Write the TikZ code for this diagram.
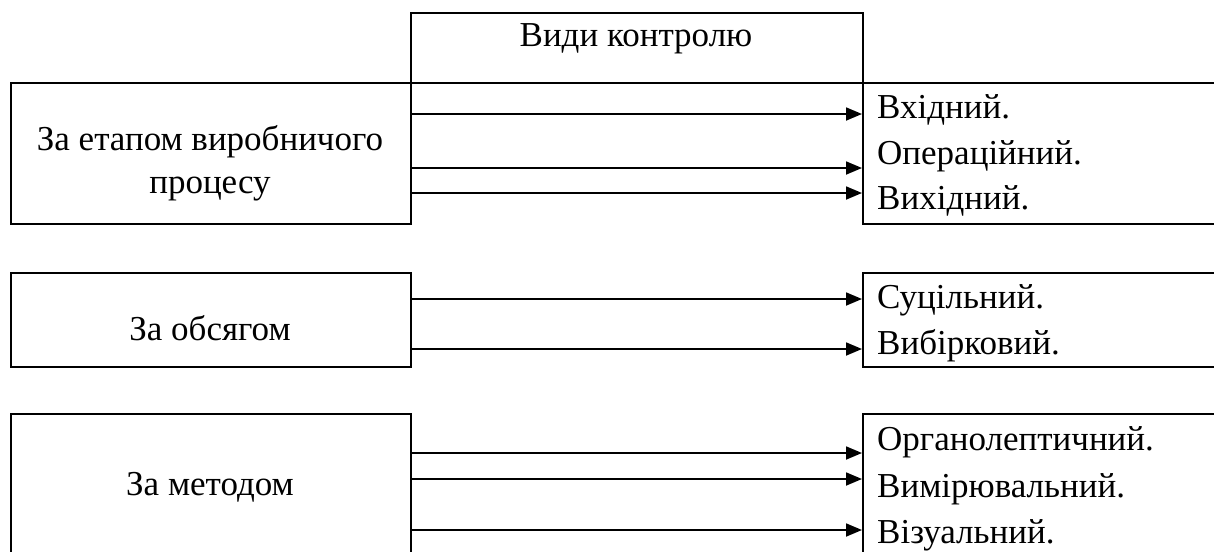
\documentclass[tikz,border=0pt]{standalone}
\usepackage{fontspec}
\setmainfont{Liberation Serif}
\usepackage{tikz}
\usetikzlibrary{arrows.meta}
\usetikzlibrary{calc,positioning}

\tikzset{
  frame/.style={draw, line width=1.6pt, rectangle, inner sep=0pt, anchor=north west},
  lbl/.style={inner sep=0pt, font=\fontsize{35}{45}\selectfont},
  arr/.style={-{Triangle[length=16pt,width=13pt]}, line width=1.8pt},
}

\begin{document}
\begin{tikzpicture}[x=1pt, y=-1pt]

    \useasboundingbox (0,0) rectangle (1214,551);
    \clip (0,0) rectangle (1214,551);

    \node[frame, minimum width=452pt, minimum height=70pt] (vydy) at (410,12) {};

    \node[frame, minimum width=400pt, minimum height=141pt] (etap) at (10,82) {};
    \node[frame, minimum width=400pt, minimum height=141pt] (etapR) at (862,82) {};

    \node[frame, minimum width=400pt, minimum height=94pt] (obsyag) at (10,272) {};
    \node[frame, minimum width=400pt, minimum height=94pt] (obsyagR) at (862,272) {};

    \node[frame, minimum width=400pt, minimum height=160pt] (metod) at (10,413) {};
    \node[frame, minimum width=400pt, minimum height=160pt] (metodR) at (862,413) {};

    \node[lbl, anchor=base] (vydyT) at (636,47) {Види контролю};

    \node[lbl, anchor=base] (etapT) at (210,150) {За етапом виробничого};
    \node[lbl, anchor=base] (etapT2) at (210,193) {процесу};
    \node[lbl, anchor=base] (obsyagT) at (210,340) {За обсягом};
    \node[lbl, anchor=base] (metodT) at (210,495) {За методом};

    \node[lbl, anchor=base west] (vkhid) at (877,118) {Вхідний.};
    \node[lbl, anchor=base west] (operac) at (877,164) {Операційний.};
    \node[lbl, anchor=base west] (vykhid) at (877,209) {Вихідний.};

    \node[lbl, anchor=base west] (sucil) at (877,308) {Суцільний.};
    \node[lbl, anchor=base west] (vybir) at (877,354) {Вибірковий.};

    \node[lbl, anchor=base west] (organo) at (877,450) {Органолептичний.};
    \node[lbl, anchor=base west] (vymir) at (877,497) {Вимірювальний.};
    \node[lbl, anchor=base west] (vizual) at (877,543) {Візуальний.};

    \foreach \y in {114,168,193}
        \draw[arr] (etap.east |- 0,\y) -- (etapR.west |- 0,\y);
    \foreach \y in {299,349}
        \draw[arr] (obsyag.east |- 0,\y) -- (obsyagR.west |- 0,\y);
    \foreach \y in {453,479,530}
        \draw[arr] (metod.east |- 0,\y) -- (metodR.west |- 0,\y);

\end{tikzpicture}
\end{document}
